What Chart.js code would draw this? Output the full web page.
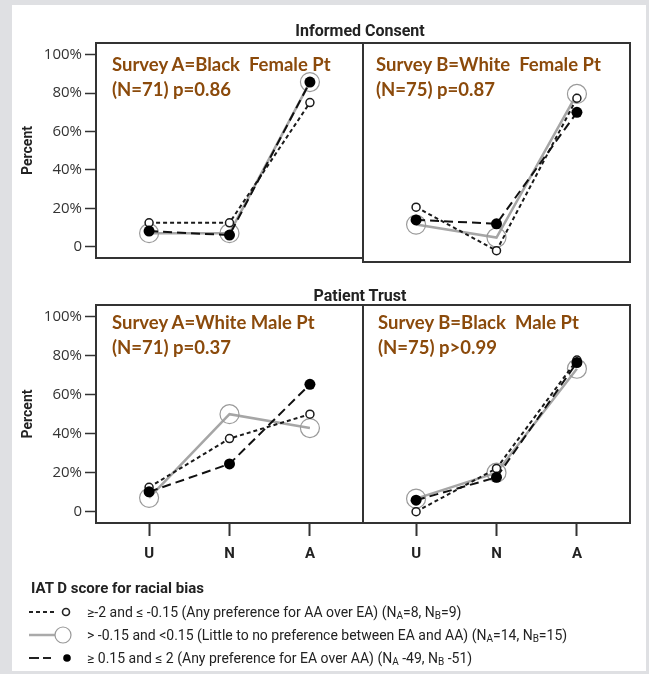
<!doctype html>
<html lang="en">
<head>
<meta charset="utf-8">
<title>IAT D score and survey responses</title>
<style>
  * { margin: 0; padding: 0; }
  body {
    width: 649px; height: 674px; overflow: hidden; position: relative;
    background: #dfe0e3; font-family: Roboto, sans-serif;
  }
  .card { position: absolute; left: 12px; top: 5px; width: 634px; height: 666px; background: #fff; }
  canvas { position: absolute; }
  .title {
    position: absolute; font: bold 16px 'Liberation Sans Narrow', Roboto, sans-serif;
    color: #222; transform: translate(-50%, -50%); white-space: nowrap;
  }
  .note {
    position: absolute; font: bold 18.5px Lato, sans-serif; color: #8b4a0b;
    white-space: pre; line-height: 25px;
  }
  .lhead { position: absolute; left: 31px; top: 579px; font: bold 15px 'Liberation Sans Narrow', Roboto, sans-serif; color: #222; }
  .lrow {
    position: absolute; left: 87px; font: 14px 'Liberation Sans Narrow', Roboto, sans-serif;
    color: #222; white-space: nowrap; line-height: 16px;
  }
  .lrow sub { font-size: 10px; vertical-align: -2px; line-height: 0; }
  svg { position: absolute; }
</style>
</head>
<body>
<div class="card"></div>

<canvas id="consentA" width="370" height="270" style="left:0;top:0"></canvas>
<canvas id="consentB" width="290" height="270" style="left:356px;top:0"></canvas>
<canvas id="trustA" width="370" height="300" style="left:0;top:280px"></canvas>
<canvas id="trustB" width="290" height="300" style="left:356px;top:280px"></canvas>

<div class="title" style="left:360px;top:30px">Informed Consent</div>
<div class="title" style="left:360px;top:295px">Patient Trust</div>

<div class="note" style="left:112px;top:52px">Survey A=Black  Female Pt
(N=71) p=0.86</div>
<div class="note" style="left:376px;top:52px">Survey B=White  Female Pt
(N=75) p=0.87</div>
<div class="note" style="left:112px;top:310px">Survey A=White Male Pt
(N=71) p=0.37</div>
<div class="note" style="left:378px;top:310px">Survey B=Black  Male Pt
(N=75) p&gt;0.99</div>

<div class="lhead">IAT D score for racial bias</div>
<svg width="90" height="70" style="left:0;top:600px">
  <line x1="29" y1="12" x2="55" y2="12" stroke="#222" stroke-width="2" stroke-dasharray="4 3"/>
  <circle cx="66" cy="12" r="3.5" fill="#fff" stroke="#222" stroke-width="1.6"/>
  <line x1="29" y1="35" x2="55" y2="35" stroke="#aaa" stroke-width="2.5"/>
  <circle cx="63" cy="35" r="8" fill="none" stroke="#999" stroke-width="1.2"/>
  <line x1="29" y1="58" x2="51" y2="58" stroke="#222" stroke-width="2" stroke-dasharray="10 4"/>
  <circle cx="67" cy="58" r="3.8" fill="#000"/>
</svg>
<div class="lrow" style="top:604px">≥-2 and ≤ -0.15 (Any preference for AA over EA) (N<sub>A</sub>=8, N<sub>B</sub>=9)</div>
<div class="lrow" style="top:627px">&gt; -0.15 and &lt;0.15 (Little to no preference between EA and AA) (N<sub>A</sub>=14, N<sub>B</sub>=15)</div>
<div class="lrow" style="top:650px">≥ 0.15 and ≤ 2 (Any preference for EA over AA) (N<sub>A</sub> -49, N<sub>B</sub> -51)</div>

<script src="https://cdn.jsdelivr.net/npm/chart.js"></script>
<script>
  // categories and ticks
  const categories = ['U', 'N', 'A'];
  const yTicks = [0, 20, 40, 60, 80, 100];

  // Informed consent, survey A (black female patient)
  const consentA_anyAA = [12.5, 12.5, 75];
  const consentA_little = [7.1, 7.1, 85.7];
  const consentA_anyEA = [8.2, 6.1, 85.7];
  // Informed consent, survey B (white female patient)
  const consentB_anyAA = [22.2, 0, 77.8];
  const consentB_little = [13.3, 6.7, 80];
  const consentB_anyEA = [15.7, 13.7, 70.6];
  // Patient trust, survey A (white male patient)
  const trustA_anyAA = [12.5, 37.5, 50];
  const trustA_little = [7.1, 50, 42.9];
  const trustA_anyEA = [10.2, 24.5, 65.3];
  // Patient trust, survey B (black male patient)
  const trustB_anyAA = [0, 22.2, 77.8];
  const trustB_little = [6.7, 20, 73.3];
  const trustB_anyEA = [5.9, 17.6, 76.5];

  const toPoints = vals => vals.map((v, i) => ({ x: i, y: v }));

  // draws the box round each panel
  const framePlugin = {
    id: 'frame',
    beforeDatasetsDraw(chart) {
      const { ctx, chartArea: { left, top, width, height } } = chart;
      ctx.save();
      ctx.strokeStyle = '#333';
      ctx.lineWidth = 2;
      ctx.strokeRect(left, top, width, height);
      ctx.restore();
    }
  };

  function makeChart(id, anyAA, little, anyEA, opt) {
    return new Chart(document.getElementById(id), {
      type: 'line',
      data: {
        datasets: [{
          label: 'little',
          data: toPoints(little),
          borderColor: '#a6a6a6',
          borderWidth: 2.5,
          pointRadius: 9.5,
          pointBackgroundColor: 'rgba(255,255,255,0)',
          pointBorderColor: '#9a9a9a',
          pointBorderWidth: 1.2,
          order: 3
        }, {
          label: 'anyAA',
          data: toPoints(anyAA),
          borderColor: '#1a1a1a',
          borderWidth: 2,
          borderDash: [4, 3],
          pointRadius: 4,
          pointBackgroundColor: '#fff',
          pointBorderColor: '#1a1a1a',
          pointBorderWidth: 1.5,
          order: 2
        }, {
          label: 'anyEA',
          data: toPoints(anyEA),
          borderColor: '#111',
          borderWidth: 2,
          borderDash: [9, 5],
          pointRadius: 5.5,
          pointBackgroundColor: '#000',
          pointBorderWidth: 0,
          order: 1
        }]
      },
      options: {
        responsive: false,
        animation: false,
        events: [],
        clip: false,
        layout: { padding: opt.padding, autoPadding: false },
        plugins: { legend: { display: false }, tooltip: { enabled: false } },
        scales: {
          x: {
            type: 'linear', min: -0.66, max: 2.66,
            display: opt.showX,
            afterBuildTicks: s => { s.ticks = categories.map((c, i) => ({ value: i })); },
            afterFit: s => { if (opt.showX) s.height = 57; },
            border: { display: false },
            grid: { drawOnChartArea: false, tickLength: 13, tickColor: '#333', tickWidth: 2 },
            ticks: {
              callback: v => categories[v],
              autoSkip: false, maxRotation: 0,
              padding: 9,
              color: '#222',
              font: { family: 'Roboto', weight: 'bold', size: 15 }
            }
          },
          y: {
            type: 'linear', min: -5.8, max: 106,
            display: opt.showY,
            afterBuildTicks: s => { s.ticks = yTicks.map(v => ({ value: v })); },
            afterFit: s => { if (opt.showY) s.width = 96; },
            border: { display: false },
            grid: { drawOnChartArea: false, tickLength: 11, tickColor: '#333', tickWidth: 1.5 },
            ticks: {
              callback: v => v === 0 ? '0' : v + '%',
              padding: 3,
              color: '#333',
              font: { family: 'Open Sans', size: 15 }
            },
            title: {
              display: true, text: 'Percent', color: '#222',
              font: { family: 'Roboto', weight: 'bold', size: 14 },
              padding: { top: 20, bottom: 0 }
            }
          }
        }
      },
      plugins: [framePlugin]
    });
  }

  makeChart('consentA', consentA_anyAA, consentA_little, consentA_anyEA,
    { showX: false, showY: true, padding: { left: 0, right: 7, top: 43, bottom: 8 } });
  makeChart('consentB', consentB_anyAA, consentB_little, consentB_anyEA,
    { showX: false, showY: false, padding: { left: 7, right: 16, top: 43, bottom: 8 } });
  makeChart('trustA', trustA_anyAA, trustA_little, trustA_anyEA,
    { showX: true, showY: true, padding: { left: 0, right: 7, top: 25, bottom: 0 } });
  makeChart('trustB', trustB_anyAA, trustB_little, trustB_anyEA,
    { showX: true, showY: false, padding: { left: 7, right: 16, top: 25, bottom: 0 } });
</script>
</body>
</html>
